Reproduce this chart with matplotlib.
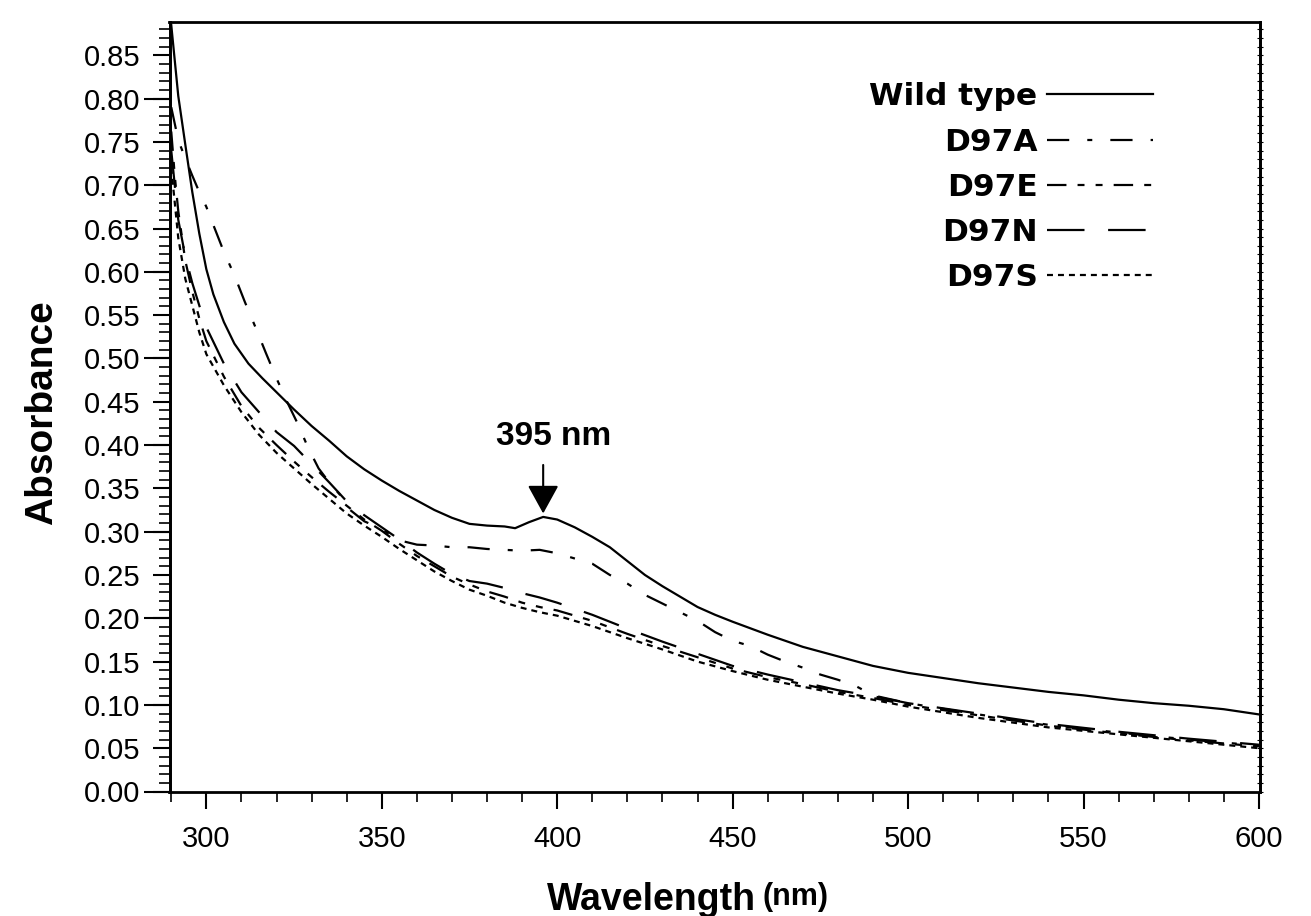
import matplotlib
matplotlib.use("Agg")
import matplotlib.pyplot as plt
from matplotlib.ticker import MultipleLocator, FormatStrFormatter

plt.rcParams['lines.scale_dashes'] = False

# ---------------- data ----------------
wl_wt = [290, 292, 294, 296, 298, 300, 302, 305, 308, 312, 316, 320, 325, 330, 335,
         340, 345, 350, 355, 360, 365, 370, 375, 380, 385, 388, 392, 396, 400, 405,
         410, 415, 420, 425, 430, 435, 440, 445, 450, 460, 470, 480, 490, 500, 510,
         520, 530, 540, 550, 560, 570, 580, 590, 600]
wild_type = [0.885, 0.803, 0.747, 0.692, 0.644, 0.603, 0.574, 0.542, 0.517, 0.494,
             0.477, 0.461, 0.441, 0.422, 0.405, 0.387, 0.372, 0.359, 0.347, 0.336,
             0.325, 0.316, 0.309, 0.307, 0.306, 0.304, 0.311, 0.317, 0.314, 0.305,
             0.294, 0.282, 0.266, 0.250, 0.237, 0.225, 0.213, 0.204, 0.196, 0.181,
             0.167, 0.156, 0.145, 0.137, 0.131, 0.125, 0.120, 0.115, 0.111, 0.106,
             0.102, 0.099, 0.095, 0.089]

wl_a = [290, 292, 294, 296, 298, 300, 302, 305, 308, 311, 314, 317, 320, 323, 326,
        329, 332, 335, 338, 341, 345, 350, 355, 360, 365, 370, 375, 380, 385, 390,
        395, 400, 405, 410, 415, 420, 425, 430, 435, 440, 445, 450, 455, 460, 465,
        470, 475, 480, 485, 490, 500, 520, 540, 560, 580, 600]
d97a = [0.790, 0.752, 0.731, 0.711, 0.692, 0.675, 0.654, 0.623, 0.596, 0.565,
        0.536, 0.506, 0.477, 0.450, 0.425, 0.397, 0.373, 0.357, 0.343, 0.325,
        0.312, 0.303, 0.290, 0.285, 0.284, 0.282, 0.282, 0.280, 0.279, 0.278,
        0.279, 0.275, 0.269, 0.263, 0.250, 0.240, 0.227, 0.217, 0.207, 0.197,
        0.184, 0.174, 0.168, 0.158, 0.150, 0.143, 0.135, 0.129, 0.122, 0.111,
        0.102, 0.089, 0.077, 0.068, 0.060, 0.053]

wl_low = [290, 291, 292, 294, 296, 298, 300, 305, 310, 315, 320, 325, 330, 335, 340,
          345, 350, 355, 360, 365, 370, 375, 380, 385, 390, 395, 400, 410, 420, 430,
          440, 450, 460, 470, 480, 490, 500, 520, 540, 560, 580, 600]
d97e = [0.762, 0.711, 0.670, 0.613, 0.577, 0.546, 0.520, 0.479, 0.445, 0.420,
        0.400, 0.381, 0.363, 0.346, 0.330, 0.314, 0.301, 0.286, 0.272, 0.260,
        0.248, 0.239, 0.231, 0.225, 0.218, 0.213, 0.209, 0.197, 0.182, 0.168,
        0.155, 0.142, 0.132, 0.124, 0.115, 0.108, 0.100, 0.088, 0.076, 0.067,
        0.059, 0.052]
d97n = [0.740, 0.700, 0.660, 0.618, 0.587, 0.561, 0.536, 0.494, 0.461, 0.438,
        0.415, 0.399, 0.378, 0.357, 0.335, 0.319, 0.305, 0.291, 0.276, 0.263,
        0.251, 0.243, 0.240, 0.235, 0.229, 0.224, 0.218, 0.204, 0.188, 0.173,
        0.159, 0.145, 0.135, 0.126, 0.117, 0.110, 0.102, 0.090, 0.078, 0.069,
        0.061, 0.054]
d97s = [0.720, 0.680, 0.639, 0.592, 0.561, 0.530, 0.505, 0.469, 0.438, 0.412,
        0.391, 0.373, 0.355, 0.338, 0.321, 0.307, 0.294, 0.280, 0.267, 0.254,
        0.243, 0.233, 0.226, 0.218, 0.212, 0.207, 0.203, 0.191, 0.177, 0.164,
        0.150, 0.139, 0.129, 0.121, 0.113, 0.106, 0.098, 0.085, 0.074, 0.066,
        0.058, 0.050]

labels = ["Wild type", "D97A", "D97E", "D97N", "D97S"]
peak_wl = 396
peak_label = "395 nm"
x_ticks = [300, 350, 400, 450, 500, 550, 600]

# ---------------- figure ----------------
W, H = 1311, 916
fig = plt.figure(figsize=(W / 100, H / 100), dpi=100)
fig.patch.set_facecolor("white")
ax = fig.add_axes([169.5 / W, 1 - 791.5 / H, 1090.5 / W, 770 / H])

lw = 1.6
ax.plot(wl_wt, wild_type, color="black", lw=lw, label=labels[0])
ax.plot(wl_a, d97a, color="black", lw=lw, dashes=[16, 13, 3.6, 13], label=labels[1])
ax.plot(wl_low, d97e, color="black", lw=lw, dashes=[14, 8, 5, 8, 5, 8], label=labels[2])
ax.plot(wl_low, d97n, color="black", lw=lw, dashes=[27, 17], label=labels[3])
ax.plot(wl_low, d97s, color="black", lw=lw, dashes=[4.3, 3.6], label=labels[4])

ax.set_xlim(289.5, 600.3)
ax.set_ylim(0, 0.889)

for s in ax.spines.values():
    s.set_linewidth(2.0)

ax.xaxis.set_major_locator(MultipleLocator(50))
ax.xaxis.set_minor_locator(MultipleLocator(10))
ax.set_xticks(x_ticks)
ax.yaxis.set_major_locator(MultipleLocator(0.05))
ax.yaxis.set_minor_locator(MultipleLocator(0.01))
ax.yaxis.set_major_formatter(FormatStrFormatter("%.2f"))

ax.tick_params(axis="x", which="major", direction="out", length=12, width=1.5, pad=12)
ax.tick_params(axis="x", which="minor", direction="out", length=7, width=1.2)
ax.tick_params(axis="y", which="major", direction="out", length=12, width=1.5, pad=9)
ax.tick_params(axis="y", which="minor", direction="out", length=8, width=1.2)
for lab in ax.get_xticklabels() + ax.get_yticklabels():
    lab.set_fontfamily("Liberation Sans")
    lab.set_fontsize(21)

# long ticks at every 0.1 on the left axis
sec = ax.secondary_yaxis("left")
sec.set_yticks([i / 10 for i in range(9)])
sec.set_yticklabels([])
sec.tick_params(axis="y", which="major", direction="out", length=19, width=1.5)
sec.spines["left"].set_linewidth(2.0)

# tiny ticks on the right axis
secr = ax.secondary_yaxis("right")
secr.set_yticks([i / 100 for i in range(89)])
secr.set_yticklabels([])
secr.tick_params(axis="y", which="major", direction="inout", length=4, width=0.8)
secr.spines["right"].set_linewidth(2.0)

# axis labels
fig.text(52 / W, 1 - 412.5 / H, "Absorbance", rotation=90, rotation_mode="anchor",
         ha="center", va="baseline", family="Liberation Sans", weight="bold", size=28)
fig.text(547 / W, 1 - 910 / H, "Wavelength", ha="left", va="baseline",
         family="Liberation Sans", weight="bold", size=27)
fig.text(762 / W, 1 - 905 / H, "(nm)", ha="left", va="baseline",
         family="Liberation Sans", weight="bold", size=22)

# annotation
ax.annotate("", xy=(peak_wl, 0.321), xytext=(peak_wl, 0.377),
            arrowprops=dict(arrowstyle="-|>,head_length=0.4,head_width=0.22",
                            color="black", lw=1.5, mutation_scale=44,
                            shrinkA=0, shrinkB=0))
ax.text(398.9, 0.41, peak_label, ha="center", va="center",
        family="Liberation Sans", weight="bold", size=24)

leg = ax.legend(loc="upper right", bbox_to_anchor=(0.902, 0.921), frameon=False,
                markerfirst=False, handlelength=3.4, handletextpad=0.3,
                labelspacing=0.52, borderpad=0, borderaxespad=0,
                prop=dict(family="DejaVu Sans", weight="bold", size=22.5))

fig.savefig("out.png", dpi=100)
